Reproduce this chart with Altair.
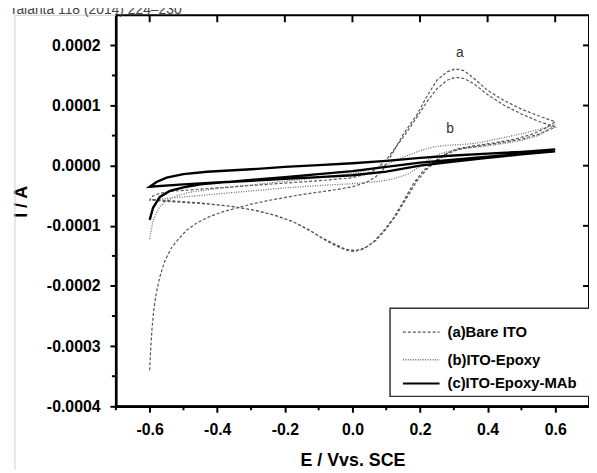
import altair as alt
import pandas as pd

# ---------------- data (E in V vs SCE, I in A) ----------------
SERIES = ["(a)Bare ITO", "(b)ITO-Epoxy", "(c)ITO-Epoxy-MAb"]

# (a) Bare ITO - two cycles
a_E = [-0.600, -0.597, -0.593, -0.588, -0.580, -0.570, -0.555, -0.535, -0.515, -0.490,
       -0.460, -0.420, -0.380, -0.340, -0.300, -0.250, -0.200, -0.150, -0.100, -0.050,
       0.000, 0.040, 0.070, 0.090, 0.120, 0.150, 0.190, 0.220, 0.250, 0.280,
       0.305, 0.330, 0.360, 0.400, 0.450, 0.500, 0.550, 0.600,
       0.570, 0.530, 0.480, 0.420, 0.360, 0.310, 0.270, 0.240, 0.210, 0.180,
       0.150, 0.120, 0.090, 0.060, 0.030, 0.005, -0.020, -0.050, -0.080, -0.120,
       -0.170, -0.220, -0.280, -0.350, -0.420, -0.500, -0.560, -0.600,
       -0.590, -0.570, -0.540, -0.500, -0.450, -0.400, -0.300, -0.200, -0.100, 0.000,
       0.040, 0.070, 0.100, 0.130, 0.160, 0.190, 0.220, 0.250, 0.280, 0.305,
       0.330, 0.360, 0.400, 0.450, 0.500, 0.550, 0.600,
       0.550, 0.500, 0.440, 0.380, 0.320, 0.280, 0.250, 0.220, 0.190, 0.160,
       0.130, 0.100, 0.070, 0.040, 0.010, -0.020, -0.050, -0.090, -0.130, -0.180,
       -0.240, -0.300, -0.370, -0.450, -0.520, -0.600]
a_I = [-3.40e-4, -3.05e-4, -2.70e-4, -2.40e-4, -2.10e-4, -1.85e-4, -1.58e-4, -1.36e-4, -1.22e-4, -1.07e-4,
       -0.95e-4, -0.84e-4, -0.76e-4, -0.70e-4, -0.64e-4, -0.58e-4, -0.53e-4, -0.48e-4, -0.44e-4, -0.40e-4,
       -0.35e-4, -0.28e-4, -0.18e-4, -0.07e-4, 0.22e-4, 0.52e-4, 0.84e-4, 1.15e-4, 1.42e-4, 1.56e-4,
       1.61e-4, 1.58e-4, 1.45e-4, 1.25e-4, 1.08e-4, 0.94e-4, 0.83e-4, 0.73e-4,
       0.62e-4, 0.52e-4, 0.44e-4, 0.38e-4, 0.33e-4, 0.28e-4, 0.18e-4, 0.06e-4, -0.08e-4, -0.30e-4,
       -0.60e-4, -0.88e-4, -1.10e-4, -1.28e-4, -1.39e-4, -1.43e-4, -1.40e-4, -1.33e-4, -1.24e-4, -1.10e-4,
       -0.95e-4, -0.84e-4, -0.75e-4, -0.68e-4, -0.64e-4, -0.61e-4, -0.59e-4, -0.57e-4,
       -0.50e-4, -0.46e-4, -0.43e-4, -0.41e-4, -0.39e-4, -0.37e-4, -0.33e-4, -0.29e-4, -0.25e-4, -0.20e-4,
       -0.14e-4, -0.06e-4, 0.10e-4, 0.32e-4, 0.55e-4, 0.80e-4, 1.06e-4, 1.28e-4, 1.42e-4, 1.47e-4,
       1.45e-4, 1.36e-4, 1.18e-4, 1.00e-4, 0.86e-4, 0.74e-4, 0.64e-4,
       0.52e-4, 0.44e-4, 0.38e-4, 0.33e-4, 0.28e-4, 0.20e-4, 0.08e-4, -0.06e-4, -0.26e-4, -0.54e-4,
       -0.82e-4, -1.05e-4, -1.24e-4, -1.36e-4, -1.41e-4, -1.39e-4, -1.31e-4, -1.20e-4, -1.06e-4, -0.92e-4,
       -0.81e-4, -0.73e-4, -0.67e-4, -0.62e-4, -0.59e-4, -0.56e-4]

# (b) ITO-Epoxy
b_E = [-0.600, -0.595, -0.590, -0.580, -0.570, -0.550, -0.520, -0.480, -0.400, -0.300,
       -0.200, -0.100, 0.000, 0.050, 0.100, 0.150, 0.200, 0.240, 0.280, 0.320,
       0.360, 0.400, 0.450, 0.500, 0.550, 0.600,
       0.550, 0.500, 0.450, 0.400, 0.350, 0.300, 0.260, 0.220, 0.190, 0.160,
       0.120, 0.080, 0.000, -0.100, -0.200, -0.300, -0.400, -0.500, -0.560, -0.600]
b_I = [-1.22e-4, -1.05e-4, -0.92e-4, -0.78e-4, -0.68e-4, -0.58e-4, -0.50e-4, -0.44e-4, -0.38e-4, -0.32e-4,
       -0.26e-4, -0.20e-4, -0.13e-4, -0.07e-4, 0.02e-4, 0.14e-4, 0.25e-4, 0.31e-4, 0.34e-4, 0.35e-4,
       0.37e-4, 0.41e-4, 0.47e-4, 0.53e-4, 0.60e-4, 0.68e-4,
       0.50e-4, 0.42e-4, 0.37e-4, 0.33e-4, 0.30e-4, 0.26e-4, 0.20e-4, 0.08e-4, -0.05e-4, -0.15e-4,
       -0.22e-4, -0.26e-4, -0.30e-4, -0.33e-4, -0.37e-4, -0.42e-4, -0.47e-4, -0.52e-4, -0.55e-4, -0.57e-4]

# (c) ITO-Epoxy-MAb : initial hook, first cycle, reverse, second forward
c_E = [-0.600, -0.590, -0.570, -0.540, -0.500, -0.450, -0.350, -0.200, 0.000, 0.200,
       0.400, 0.600,
       0.500, 0.400, 0.300, 0.200, 0.100, 0.000, -0.100, -0.200, -0.300, -0.400,
       -0.500, -0.600,
       -0.580, -0.550, -0.500, -0.430, -0.300, -0.200, -0.100, 0.000, 0.100,
       0.200, 0.300, 0.400, 0.500, 0.600]
c_I = [-0.90e-4, -0.70e-4, -0.52e-4, -0.42e-4, -0.36e-4, -0.31e-4, -0.26e-4, -0.19e-4, -0.09e-4, 0.05e-4,
       0.15e-4, 0.24e-4,
       0.19e-4, 0.13e-4, 0.07e-4, 0.00e-4, -0.10e-4, -0.16e-4, -0.19e-4, -0.22e-4, -0.25e-4, -0.28e-4,
       -0.31e-4, -0.35e-4,
       -0.27e-4, -0.20e-4, -0.14e-4, -0.10e-4, -0.06e-4, -0.02e-4, 0.01e-4, 0.04e-4, 0.08e-4,
       0.13e-4, 0.17e-4, 0.20e-4, 0.23e-4, 0.27e-4]

X_MAJOR = [-0.6, -0.4, -0.2, 0.0, 0.2, 0.4, 0.6]
X_MINOR = [-0.7, -0.5, -0.3, -0.1, 0.1, 0.3, 0.5]
Y_MAJOR = [-0.0004, -0.0003, -0.0002, -0.0001, 0.0, 0.0001, 0.0002]
Y_MINOR = [-0.00035, -0.00025, -0.00015, -0.00005, 0.00005, 0.00015]

PEAK_LABELS = ["a", "b"]
PEAK_E = [0.318, 0.289]
PEAK_I = [1.88e-4, 0.61e-4]

# ---------------- build tables ----------------
rows = []
for name, es, is_ in zip(SERIES, [a_E, b_E, c_E], [a_I, b_I, c_I]):
    for k, (e, i) in enumerate(zip(es, is_)):
        rows.append({"series": name, "E": e, "I": i, "idx": k})
df = pd.DataFrame(rows)

W, H = 478, 395
FONT = "Liberation Sans"
HYPHEN = "replace(datum.label, '\u2212', '-')"

xs = alt.Scale(domain=[-0.7, 0.7], nice=False, zero=False)
ys = alt.Scale(domain=[-0.0004, 0.00025], nice=False, zero=False)

xaxis = alt.Axis(values=X_MAJOR, format=".1f", labelExpr=HYPHEN, grid=False, domainColor="black",
                 domainWidth=2.5, tickColor="black", tickWidth=2, tickSize=6, labelFont=FONT,
                 labelFontWeight="bold", labelFontSize=16, labelColor="black", labelPadding=10,
                 labelFlush=False,
                 title="E / Vvs. SCE", titleFont=FONT, titleFontWeight="bold", titleFontSize=18,
                 titleColor="black", titleY=55, titleBaseline="middle")
yaxis = alt.Axis(values=Y_MAJOR, format=".4f", labelExpr=HYPHEN, grid=False, domainColor="black",
                 domainWidth=2.5, tickColor="black", tickWidth=2, tickSize=6, labelFont=FONT,
                 labelFontWeight="bold", labelFontSize=16, labelColor="black", labelPadding=10,
                 labelFlush=False,
                 title="I / A", titleFont=FONT, titleFontWeight="bold", titleFontSize=18,
                 titleColor="black", titleX=-95, titleY=188, titleAngle=-90,
                 titleAlign="center", titleBaseline="middle")


def X(field="E"):
    return alt.X(f"{field}:Q", scale=xs, axis=xaxis)


def Y(field="I"):
    return alt.Y(f"{field}:Q", scale=ys, axis=yaxis)


styles = {
    SERIES[0]: dict(color="#555555", strokeDash=[3, 2], strokeWidth=1.2),
    SERIES[1]: dict(color="#6a6a6a", strokeDash=[1, 1.5], strokeWidth=1.3),
    SERIES[2]: dict(color="#000000", strokeWidth=2.4),
}

layers = []
for s in SERIES:
    layers.append(
        alt.Chart(df).transform_filter(alt.datum.series == s)
        .mark_line(**styles[s]).encode(x=X(), y=Y(), order="idx:Q")
    )

# minor / inward ticks
xmin_df = pd.DataFrame({"E": X_MINOR})
xmaj_df = pd.DataFrame({"E": X_MAJOR})
ymin_df = pd.DataFrame({"I": Y_MINOR})
ymaj_df = pd.DataFrame({"I": Y_MAJOR})

layers.append(alt.Chart(xmin_df).mark_rule(color="black", strokeWidth=2).encode(
    x=X(), y=alt.value(H), y2=alt.value(H + 4)))
layers.append(alt.Chart(xmaj_df).mark_rule(color="black", strokeWidth=2).encode(
    x=X(), y=alt.value(0), y2=alt.value(7)))
layers.append(alt.Chart(ymin_df).mark_rule(color="black", strokeWidth=2).encode(
    y=Y(), x=alt.value(0), x2=alt.value(-4)))
layers.append(alt.Chart(ymaj_df).mark_rule(color="black", strokeWidth=2).encode(
    y=Y(), x=alt.value(W), x2=alt.value(W - 6)))

# peak labels
lab_df = pd.DataFrame({"t": PEAK_LABELS, "E": PEAK_E, "I": PEAK_I})
layers.append(alt.Chart(lab_df).mark_text(font=FONT, fontSize=14, color="#333333").encode(
    x=X(), y=Y(), text="t:N"))

one = pd.DataFrame({"k": [0]})
# page frame lines (light grey)
layers.append(alt.Chart(one).mark_rule(color="#cfcfcf", strokeWidth=1).encode(
    x=alt.value(-102), x2=alt.value(-102), y=alt.value(0), y2=alt.value(470)))
layers.append(alt.Chart(one).mark_rule(color="#cfcfcf", strokeWidth=1).encode(
    x=alt.value(-102), x2=alt.value(0), y=alt.value(0), y2=alt.value(0)))
# journal header
layers.append(alt.Chart(one).mark_text(font=FONT, fontSize=14, color="#444444", align="left",
                                       baseline="alphabetic", text="/ Talanta 118 (2014) 224\u2013230").encode(
    x=alt.value(-115), y=alt.value(-1)))

# legend box
LX, LY = 277, 296
layers.append(alt.Chart(one).mark_rect(fill="white", stroke="#333333", strokeWidth=1.5).encode(
    x=alt.value(LX), x2=alt.value(W + 4), y=alt.value(LY), y2=alt.value(385)))
row_y = [LY + 24, LY + 52, LY + 76]
for s, ry in zip(SERIES, row_y):
    st = dict(styles[s])
    if s == SERIES[2]:
        st["strokeWidth"] = 1.8
    layers.append(alt.Chart(one).mark_rule(**st).encode(
        x=alt.value(LX + 13), x2=alt.value(LX + 50), y=alt.value(ry), y2=alt.value(ry)))
    layers.append(alt.Chart(one).mark_text(font=FONT, fontSize=15, fontWeight="bold", color="black",
                                           align="left", baseline="middle", text=s).encode(
        x=alt.value(LX + 58), y=alt.value(ry)))

chart = alt.layer(*layers).properties(
    width=W, height=H,
    autosize=alt.AutoSizeParams(type="none"),
    padding={"left": 109, "top": 5, "right": 0, "bottom": 62},
).configure_view(stroke="black", strokeWidth=2)

chart.save("out.html", embed_options={"renderer": "svg", "actions": False})
